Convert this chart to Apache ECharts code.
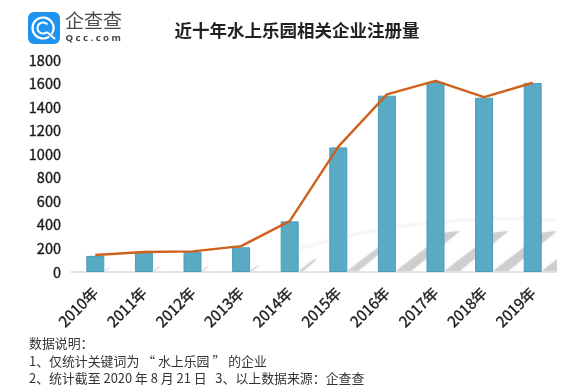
<!DOCTYPE html>
<html><head><meta charset="utf-8">
<style>html,body{margin:0;padding:0;background:#fff}#c{width:580px;height:390px}</style>
<script src="https://cdn.jsdelivr.net/npm/echarts@6/dist/echarts.min.js"></script></head>
<body><div id="c"></div>
<script>
const categories=['2010年','2011年','2012年','2013年','2014年','2015年','2016年','2017年','2018年','2019年'];
const barValues=[137,172,172,210,430,1058,1497,1613,1480,1605];
const lineValues=[144,170,175,220,432,1065,1508,1622,1485,1607];
const yTicks=[0,200,400,600,800,1000,1200,1400,1600,1800];
const titleText='近十年水上乐园相关企业注册量';
const noteLines=['数据说明：','1、仅统计关键词为 “ 水上乐园 ” 的企业','2、统计截至 2020 年 8 月 21 日   3、以上数据来源：企查查'];
const F='"Noto Sans CJK SC","Noto Sans",sans-serif';
const chart=echarts.init(document.getElementById('c'),null,{renderer:'canvas'});
const tickText={color:'#1a1a1a',fontFamily:F,fontSize:14.5,textBorderColor:'#1a1a1a',textBorderWidth:0.35};
chart.setOption({
 animation:false,backgroundColor:'#fff',
 grid:{left:71,right:23,top:60,bottom:118},
 xAxis:{type:'category',data:categories,axisTick:{show:false},
  axisLine:{lineStyle:{color:'#dcdcdc',width:1.5}},
  axisLabel:{...tickText,fontSize:15,rotate:45,margin:18,interval:0}},
 yAxis:{type:'value',min:0,max:1800,interval:200,splitLine:{show:false},axisLine:{show:false},axisTick:{show:false},
  axisLabel:{...tickText,margin:10,formatter:v=>yTicks.includes(v)?String(v):''}},
 series:[
  {type:'custom',z:1,silent:true,data:barValues,clip:true,
   renderItem(p,api){
    const base=api.coord([api.value(0),0]);
    const h=Math.min(40,(base[1]-api.coord([api.value(0),api.value(1)])[1])*0.23);
    const x=base[0]+9,y=base[1]-1;
    return {type:'polygon',shape:{points:[[x,y],[x+h*1.25,y-h*0.96],[x+h*1.6,y-h],[x+h*0.38,y]]},
     style:{fill:'rgba(190,190,190,0.62)',shadowBlur:3,shadowColor:'rgba(190,190,190,0.6)'}};
   },encode:{x:0,y:1}},
  {type:'bar',z:2,data:barValues,barWidth:18,itemStyle:{color:'#59aac5',borderColor:'#4c9cb8',borderWidth:1}},
  {type:'line',z:3,data:lineValues,symbol:'none',lineStyle:{color:'#d0611c',width:2.4}}
 ],
 graphic:[
  {type:'bezierCurve',z:0,shape:{x1:300,y1:249,cpx1:370,cpy1:226,cpx2:470,cpy2:214,x2:557,y2:220},style:{fill:'none',stroke:'rgba(235,235,235,0.4)',lineWidth:4}},
  {type:'text',x:297,y:30,style:{text:titleText,fontFamily:F,fontSize:17.5,fontWeight:'bold',fill:'#222',align:'center',verticalAlign:'middle'}},
  {type:'rect',x:28,y:12,shape:{width:32,height:32,r:6},style:{fill:'#1e93ef'}},
  {type:'arc',x:43,y:28,shape:{r:10.5,startAngle:0.95,endAngle:6.9},style:{fill:'none',stroke:'#fff',lineWidth:2.2}},
  {type:'arc',x:43,y:28,shape:{r:5.5,startAngle:0.8,endAngle:5.6},style:{fill:'none',stroke:'#fff',lineWidth:2}},
  {type:'line',shape:{x1:47,y1:32,x2:55,y2:39},style:{stroke:'#fff',lineWidth:2.2}},
  {type:'text',x:65,y:21,style:{text:'企查查',fontFamily:F,fontSize:19,fill:'#4a4a4a',verticalAlign:'middle'}},
  {type:'text',x:65.5,y:38.5,style:{text:'Q c c . c o m',fontFamily:'"Noto Sans",sans-serif',fontSize:9.6,fontWeight:'bold',fill:'#444',verticalAlign:'middle'}},
  ...noteLines.map((t,i)=>({type:'text',x:29,y:[343,361,378][i],style:{text:t,fontFamily:F,fontSize:12.9,fill:'#333',verticalAlign:'middle'}}))
 ]
});
</script></body></html>
